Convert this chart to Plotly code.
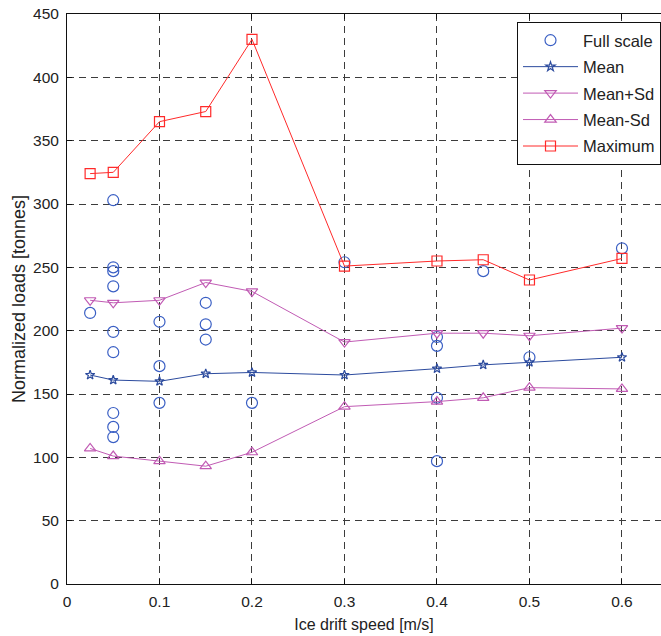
import plotly.graph_objects as go

# Drift speeds where statistics were evaluated [m/s]
speeds = [0.025, 0.05, 0.1, 0.15, 0.2, 0.3, 0.4, 0.45, 0.5, 0.6]

# Statistics of normalized loads [tonnes]
mean_load = [165, 161, 160, 166, 167, 165, 170, 173, 175, 179]
mean_plus_sd = [224, 222, 224, 238, 231, 191, 198, 198, 196, 202]
mean_minus_sd = [107, 101, 97, 93, 104, 140, 144, 147, 155, 154]
max_load = [324, 325, 365, 373, 430, 251, 255, 256, 240, 257]

# Full-scale measurements
fs_speed = [0.025,
            0.05, 0.05, 0.05, 0.05, 0.05, 0.05, 0.05, 0.05, 0.05,
            0.1, 0.1, 0.1,
            0.15, 0.15, 0.15,
            0.2,
            0.3,
            0.4, 0.4, 0.4, 0.4,
            0.45,
            0.5,
            0.6]
fs_load = [214,
           303, 250, 247, 235, 199, 183, 135, 124, 116,
           207, 172, 143,
           222, 205, 193,
           143,
           254,
           195, 188, 147, 97,
           247,
           179,
           265]

BLUE_PT = "#3a5fc4"
BLUE_LN = "#2c4b9e"
MAGENTA = "#c15bb4"
RED = "#ff2a2a"

fig = go.Figure()

fig.add_trace(go.Scatter(
    x=fs_speed, y=fs_load, mode="markers", name="Full scale",
    legendgroup="g1",
    marker=dict(symbol="circle-open", size=11, color=BLUE_PT,
                line=dict(width=1.2, color=BLUE_PT)),
))
fig.add_trace(go.Scatter(
    x=speeds, y=mean_load, mode="lines+markers", name="Mean",
    legendgroup="g2",
    line=dict(color=BLUE_LN, width=1),
    marker=dict(symbol="star-open", size=7, color=BLUE_LN,
                line=dict(width=1.2, color=BLUE_LN)),
))
fig.add_trace(go.Scatter(
    x=speeds, y=mean_plus_sd, mode="lines+markers", name="Mean+Sd",
    legendgroup="g3",
    line=dict(color=MAGENTA, width=1),
    marker=dict(symbol="triangle-down-open", size=10, color=MAGENTA,
                line=dict(width=1.2, color=MAGENTA)),
))
fig.add_trace(go.Scatter(
    x=speeds, y=mean_minus_sd, mode="lines+markers", name="Mean-Sd",
    legendgroup="g4",
    line=dict(color=MAGENTA, width=1),
    marker=dict(symbol="triangle-up-open", size=10, color=MAGENTA,
                line=dict(width=1.2, color=MAGENTA)),
))
fig.add_trace(go.Scatter(
    x=speeds, y=max_load, mode="lines+markers", name="Maximum",
    legendgroup="g5",
    line=dict(color=RED, width=1),
    marker=dict(symbol="square-open", size=10, color=RED,
                line=dict(width=1.2, color=RED)),
))

GRID = "#3c3c3c"
FONT = "Liberation Sans, Arial, sans-serif"

fig.update_layout(
    width=661, height=636,
    margin=dict(l=67, r=0, t=14, b=52),
    paper_bgcolor="white", plot_bgcolor="white",
    font=dict(family=FONT, size=15.5, color="#222222"),
    showlegend=True,
    legend=dict(
        x=0.7576, y=0.9860, xanchor="left", yanchor="top",
        bgcolor="white", bordercolor="#111111", borderwidth=1,
        font=dict(size=16.5, color="#222222"),
        tracegroupgap=2, itemwidth=55,
    ),
    xaxis=dict(
        range=[0, 0.6422],
        tickvals=[0, 0.1, 0.2, 0.3, 0.4, 0.5, 0.6],
        ticktext=["0", "0.1", "0.2", "0.3", "0.4", "0.5", "0.6"],
        showgrid=True, gridcolor=GRID, gridwidth=1, griddash="7px,5px",
        zeroline=False,
        showline=True, linecolor="#111111", linewidth=1, mirror="ticks",
        ticks="inside", ticklen=5, tickcolor="#111111",
        ticklabelstandoff=3,
        title=dict(text="Ice drift speed [m/s]", font=dict(size=16), standoff=10),
    ),
    yaxis=dict(
        range=[0, 450],
        tickvals=[0, 50, 100, 150, 200, 250, 300, 350, 400, 450],
        showgrid=True, gridcolor=GRID, gridwidth=1, griddash="7px,5px",
        zeroline=False,
        showline=True, linecolor="#111111", linewidth=1, mirror=False,
        ticks="inside", ticklen=5, tickcolor="#111111",
        ticklabelstandoff=4,
        title=dict(text="Normalized loads [tonnes]", font=dict(size=18), standoff=2),
    ),
)

fig.write_html("out.html")
